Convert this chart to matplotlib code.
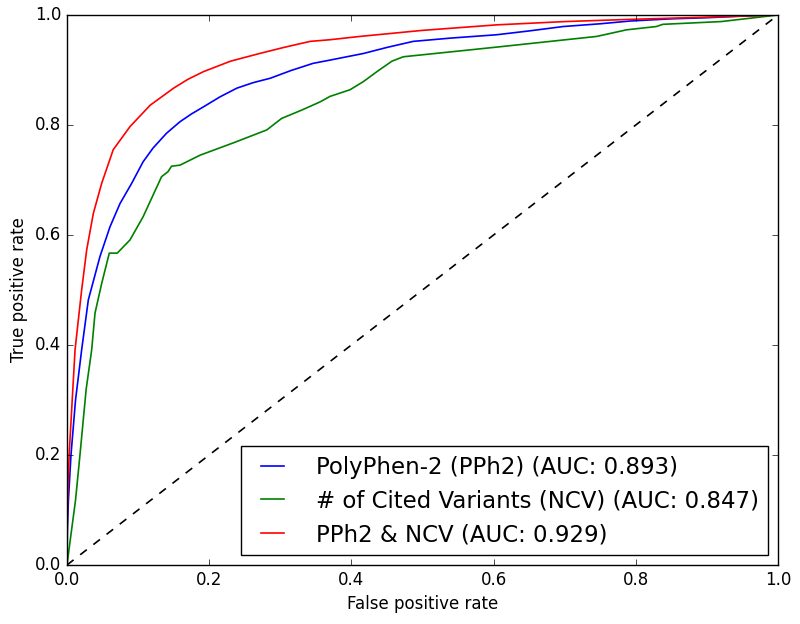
import matplotlib
matplotlib.use("Agg")
import matplotlib.pyplot as plt
from matplotlib.legend_handler import HandlerLine2D

plt.style.use('classic')
plt.rcParams['font.family'] = ['DejaVu Sans']

# PolyPhen-2 (PPh2)
pph2_fpr = [0.0, 0.0005, 0.002, 0.0056, 0.012, 0.0206, 0.030, 0.0464, 0.0605, 0.0745, 0.091, 0.107,
            0.121, 0.140, 0.159, 0.175, 0.192, 0.215, 0.239, 0.262, 0.286, 0.315, 0.346, 0.370,
            0.417, 0.450, 0.487, 0.54, 0.604, 0.65, 0.698, 0.75, 0.792, 0.85, 0.90, 0.95, 1.0]
pph2_tpr = [0.0, 0.06, 0.118, 0.2, 0.30, 0.391, 0.482, 0.561, 0.615, 0.657, 0.694, 0.733,
            0.758, 0.785, 0.806, 0.820, 0.833, 0.851, 0.867, 0.877, 0.885, 0.899, 0.912, 0.918,
            0.930, 0.941, 0.952, 0.958, 0.964, 0.971, 0.979, 0.984, 0.989, 0.993, 0.995, 0.998, 1.0]

# # of Cited Variants (NCV)
ncv_fpr = [0.0, 0.003, 0.012, 0.018, 0.027, 0.0347, 0.0394, 0.0488, 0.0595, 0.0707, 0.0886, 0.107,
           0.133, 0.142, 0.147, 0.159, 0.187, 0.235, 0.281, 0.302, 0.330, 0.356, 0.370, 0.398,
           0.417, 0.437, 0.457, 0.473, 0.60, 0.745, 0.787, 0.829, 0.838, 0.92, 1.0]
ncv_tpr = [0.0, 0.03, 0.118, 0.197, 0.32, 0.391, 0.458, 0.512, 0.567, 0.567, 0.591, 0.633,
           0.706, 0.715, 0.725, 0.727, 0.745, 0.768, 0.791, 0.812, 0.827, 0.842, 0.852, 0.864,
           0.879, 0.898, 0.916, 0.924, 0.941, 0.961, 0.973, 0.979, 0.983, 0.988, 1.0]

# PPh2 & NCV
comb_fpr = [0.0, 0.0005, 0.003, 0.0113, 0.0206, 0.0277, 0.037, 0.0488, 0.065, 0.0886, 0.117, 0.150,
            0.170, 0.192, 0.230, 0.271, 0.305, 0.342, 0.370, 0.412, 0.50, 0.604, 0.70, 0.792,
            0.90, 1.0]
comb_tpr = [0.0, 0.10, 0.20, 0.391, 0.50, 0.573, 0.639, 0.694, 0.755, 0.797, 0.836, 0.867,
            0.883, 0.897, 0.916, 0.930, 0.941, 0.952, 0.955, 0.961, 0.972, 0.982, 0.988, 0.992,
            0.996, 1.0]

labels = ['PolyPhen-2 (PPh2) (AUC: 0.893)',
          '# of Cited Variants (NCV) (AUC: 0.847)',
          'PPh2 & NCV (AUC: 0.929)']


class InsetLineHandler(HandlerLine2D):
    """Legend line that starts a little inside its handle box (old matplotlib look)."""
    def create_artists(self, legend, orig_handle, xdescent, ydescent, width, height,
                       fontsize, trans):
        artists = super().create_artists(legend, orig_handle, xdescent, ydescent,
                                         width, height, fontsize, trans)
        for a in artists:
            xd = list(a.get_xdata())
            if len(xd) >= 2:
                start = xd[0] + 0.15 * (xd[-1] - xd[0])
                a.set_xdata([start, xd[-1]])
                a.set_ydata([a.get_ydata()[0], a.get_ydata()[-1]])
        return artists


fig = plt.figure(figsize=(8, 6.24), dpi=100, facecolor='white')
ax = fig.add_axes([0.08375, 0.0946, 0.88875, 0.8814])
l1, = ax.plot(pph2_fpr, pph2_tpr, color='b', lw=1.2, label=labels[0])
l2, = ax.plot(ncv_fpr, ncv_tpr, color='g', lw=1.2, label=labels[1])
l3, = ax.plot(comb_fpr, comb_tpr, color='r', lw=1.2, label=labels[2])
ax.plot([0, 1], [0, 1], 'k--', lw=1.2)
ax.set_xlim(0, 1)
ax.set_ylim(0, 1)
ax.set_xlabel('False positive rate', fontsize=12)
ax.set_ylabel('True positive rate', fontsize=12)
ax.tick_params(labelsize=12)
ax.legend(loc='lower right', fontsize=16.5, handlelength=1.75, handletextpad=1.12,
          borderpad=0.4, labelspacing=0.47, borderaxespad=0.42, numpoints=2,
          handler_map={l1: InsetLineHandler(), l2: InsetLineHandler(), l3: InsetLineHandler()})
fig.savefig('out.png', dpi=100, facecolor='white')
